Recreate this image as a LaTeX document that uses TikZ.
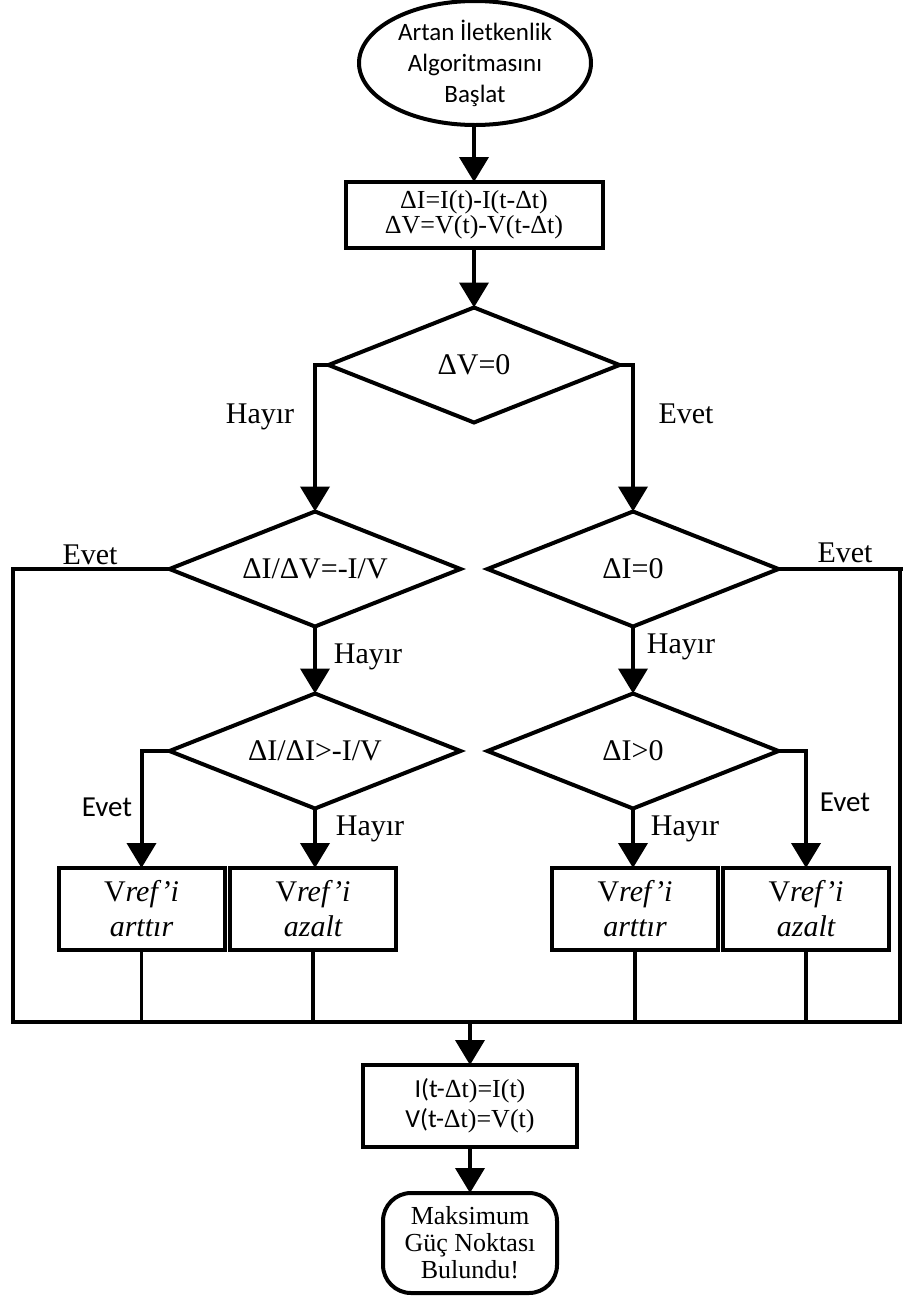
\documentclass[tikz,border=0pt]{standalone}
\usepackage{fontspec}
\setmainfont{Liberation Serif}
\newfontfamily\calfont{Carlito}
\usetikzlibrary{shapes.geometric,arrows.meta}
\begin{document}
\begin{tikzpicture}[x=1pt,y=-1pt,
  every node/.style={inner sep=0pt, outer sep=0pt},
  shp/.style={draw, line width=4pt},
  dec/.style={shp, diamond, aspect=2.5, minimum width=291pt, minimum height=115pt, font=\fontsize{30}{30}\selectfont},
  proc/.style={shp, rectangle, align=center},
  act/.style={shp, rectangle, minimum width=166pt, minimum height=82pt, align=center, font=\fontsize{30}{35}\selectfont\itshape},
  lbl/.style={anchor=base, font=\fontsize{30}{30}\selectfont},
  slbl/.style={anchor=base, font=\calfont\fontsize{29}{29}\selectfont},
  arr/.style={line width=4pt, -{Triangle[length=25pt,width=29pt]}},
  bus/.style={line width=3.5pt},
]
\useasboundingbox (0,0) rectangle (903,1296);
\fill[white] (0,0) rectangle (903,1296);

% nodes
\node[shp, ellipse, minimum width=232pt, minimum height=124pt, align=center, font=\calfont\fontsize{25}{31}\selectfont] (start) at (475,63) {Artan İletkenlik\\Algoritmasını\\Başlat};
\node[proc, minimum width=257pt, minimum height=66pt, font=\fontsize{26}{25}\selectfont] (calc) at (474,215) {ΔI=I(t)-I(t-Δt)\\ΔV=V(t)-V(t-Δt)};
\node[dec] (dv) at (474,365) {ΔV=0};
\node[dec] (d2) at (315,569) {ΔI/ΔV=-I/V};
\node[dec] (d3) at (633,569) {ΔI=0};
\node[dec] (d4) at (315,751) {ΔI/ΔI>-I/V};
\node[dec] (d5) at (633,751) {ΔI>0};
\node[act] (a1) at (141.5,909) {{\upshape V}ref'i\\arttır};
\node[act] (a2) at (313,909) {{\upshape V}ref'i\\azalt};
\node[act] (a3) at (635,909) {{\upshape V}ref'i\\arttır};
\node[act] (a4) at (806,909) {{\upshape V}ref'i\\azalt};
\node[proc, minimum width=214pt, minimum height=82pt, font=\fontsize{26}{30}\selectfont] (upd) at (470,1106) {{\calfont I(t-}Δt)=I(t)\\{\calfont V(t-}Δt)=V(t)};
\node[shp, rectangle, rounded corners=28pt, minimum width=174pt, minimum height=100pt, align=center, font=\fontsize{26}{27}\selectfont] (stop) at (470,1243) {Maksimum\\Güç Noktası\\Bulundu!};

% labels
\node[lbl] (l1) at (260,423) {Hayır};
\node[lbl] (l2) at (686,423) {Evet};
\node[lbl] (l3) at (90,564) {Evet};
\node[lbl] (l4) at (845,562) {Evet};
\node[lbl] (l5) at (368,663) {Hayır};
\node[lbl] (l6) at (681,653) {Hayır};
\node[slbl] (l7) at (107,816) {Evet};
\node[lbl] (l8) at (370,835) {Hayır};
\node[lbl] (l9) at (685,835) {Hayır};
\node[slbl] (l10) at (845,811) {Evet};

% bus coordinates
\coordinate (lbot) at (13,1022);
\coordinate (rbot) at (900,1022);

% connectors
\draw[arr] (start.south -| calc) -- (calc.north);
\draw[arr] (calc) -- (dv);
\draw[arr] (dv.west) -| (d2.north);
\draw[arr] (dv.east) -| (d3.north);
\draw[arr] (d2) -- (d4);
\draw[arr] (d3) -- (d5);
\draw[arr] (d4.west) -| (a1.north);
\draw[arr] (d4.south) -- (d4.south |- a2.north);
\draw[arr] (d5.south) -- (d5.south |- a3.north);
\draw[arr] (d5.east) -| (a4.north);
\draw[bus] (d2.west) -| (lbot) -- (rbot) |- (d3.east);
\draw[bus] (d3.east) -- (903,569);
\draw[bus] (a1.south) -- (a1.south |- lbot);
\draw[bus] (a2.south) -- (a2.south |- lbot);
\draw[bus] (a3.south) -- (a3.south |- lbot);
\draw[bus] (a4.south) -- (a4.south |- lbot);
\draw[arr] (upd.north |- lbot) -- (upd.north);
\draw[arr] (upd) -- (stop);
\end{tikzpicture}
\end{document}
